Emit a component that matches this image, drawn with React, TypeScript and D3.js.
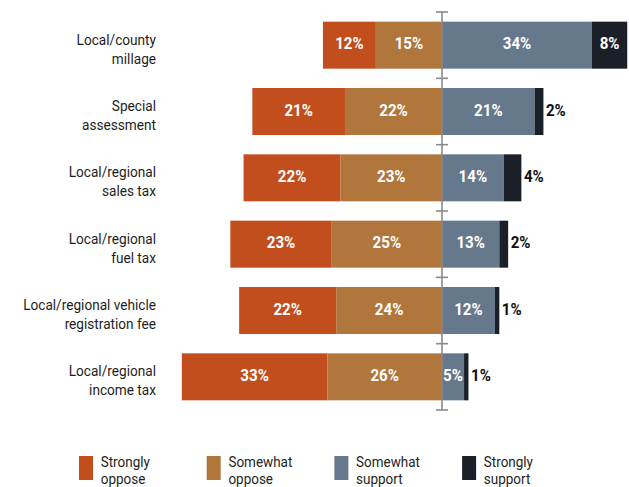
import React from "react";
import * as d3 from "d3";

const categoryLines: string[][] = [
  ["Local/county", "millage"],
  ["Special", "assessment"],
  ["Local/regional", "sales tax"],
  ["Local/regional", "fuel tax"],
  ["Local/regional vehicle", "registration fee"],
  ["Local/regional", "income tax"],
];
const stronglyOppose = [12, 21, 22, 23, 22, 33];
const somewhatOppose = [15, 22, 23, 25, 24, 26];
const somewhatSupport = [34, 21, 14, 13, 12, 5];
const stronglySupport = [8, 2, 4, 2, 1, 1];

const legendLines: string[][] = [
  ["Strongly", "oppose"],
  ["Somewhat", "oppose"],
  ["Somewhat", "support"],
  ["Strongly", "support"],
];
const colors = ["#C24E1D", "#B1763C", "#65788C", "#1B1F27"];

const W = 629;
const H = 487;
const FONT = "Roboto, 'Liberation Sans', sans-serif";

function CText(props: {
  x: number;
  y: number;
  sx: number;
  anchor?: string;
  fill: string;
  size: number;
  weight?: string | number;
  children: React.ReactNode;
}) {
  const { x, y, sx, anchor = "start", fill, size, weight = "normal", children } = props;
  return (
    <text
      transform={`translate(${x},${y}) scale(${sx},1)`}
      textAnchor={anchor}
      fill={fill}
      fontSize={size}
      fontWeight={weight}
    >
      {children}
    </text>
  );
}

export default function App() {
  const idx = categoryLines.map((_, i) => i);
  const x = d3.scaleLinear().domain([-59, 42]).range([442 - 59 * 4.41, 442 + 42 * 4.41]);
  const p = 0.2915;
  const y = d3.scaleBand<number>().domain(idx).range([12, 410]).paddingInner(p).paddingOuter(p / 2);
  const step = y.step();
  const bw = y.bandwidth();

  type Seg = { i: number; s: number; x0: number; x1: number; v: number };
  const segs: Seg[] = [];
  idx.forEach((i) => {
    const so = stronglyOppose[i], wo = somewhatOppose[i], ws = somewhatSupport[i], ss = stronglySupport[i];
    segs.push({ i, s: 0, x0: -(so + wo), x1: -wo, v: so });
    segs.push({ i, s: 1, x0: -wo, x1: 0, v: wo });
    segs.push({ i, s: 2, x0: 0, x1: ws, v: ws });
    segs.push({ i, s: 3, x0: ws, x1: ws + ss, v: ss });
  });

  const tickYs = d3.range(idx.length + 1).map((k) => 12 + k * step);
  const cx = x(0);

  return (
    <svg width={W} height={H} style={{ position: "absolute", left: 0, top: 0, background: "#fff" }} fontFamily={FONT}>
      {segs.map((d, k) => (
        <rect key={"r" + k} x={x(d.x0)} y={y(d.i)!} width={x(d.x1) - x(d.x0)} height={bw} fill={colors[d.s]} />
      ))}
      <line x1={cx} x2={cx} y1={tickYs[0]} y2={tickYs[tickYs.length - 1]} stroke="#8a8a8a" strokeWidth={1.6} />
      {tickYs.map((t, k) => (
        <line key={"t" + k} x1={cx - 6} x2={cx + 6} y1={t} y2={t} stroke="#8a8a8a" strokeWidth={1.6} />
      ))}
      {segs.map((d, k) => {
        const inside = d.v >= 5;
        const yc = y(d.i)! + bw / 2 + 4;
        const tx = inside ? (x(d.x0) + x(d.x1)) / 2 : x(d.x1) + 2.5;
        return (
          <CText
            key={"l" + k}
            x={tx}
            y={yc}
            sx={0.89}
            anchor={inside ? "middle" : "start"}
            fill={inside ? "#fff" : "#111"}
            weight="bold"
            size={17}
          >
            {d.v}%
          </CText>
        );
      })}
      {idx.map((i) => (
        <g key={"c" + i}>
          <CText x={156} y={y(i)! + bw / 2 - 0.5} sx={0.88} anchor="end" fill="#1e1e1e" size={15.5}>
            {categoryLines[i][0]}
          </CText>
          <CText x={156} y={y(i)! + bw / 2 + 18.5} sx={0.88} anchor="end" fill="#1e1e1e" size={15.5}>
            {categoryLines[i][1]}
          </CText>
        </g>
      ))}
      {legendLines.map((ln, k) => {
        const lx = 79 + k * 127.7;
        return (
          <g key={"g" + k}>
            <rect x={lx} y={456} width={14} height={24} fill={colors[k]} />
            <CText x={lx + 21.7} y={466.5} sx={0.87} fill="#1e1e1e" size={15.5}>
              {ln[0]}
            </CText>
            <CText x={lx + 21.7} y={483.5} sx={0.87} fill="#1e1e1e" size={15.5}>
              {ln[1]}
            </CText>
          </g>
        );
      })}
    </svg>
  );
}
